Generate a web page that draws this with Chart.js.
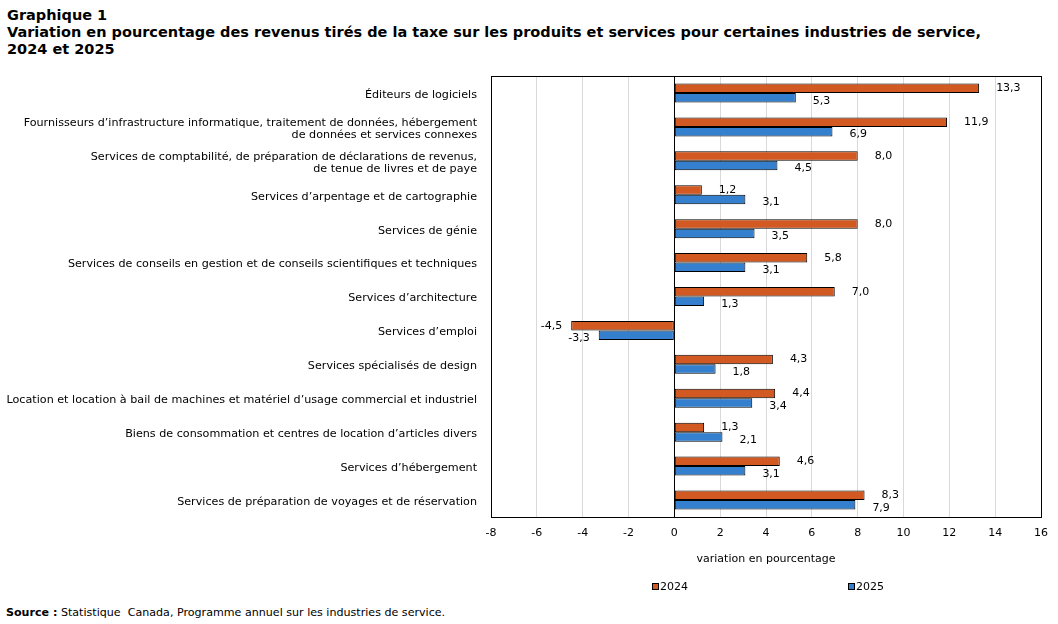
<!DOCTYPE html>
<html><head><meta charset="utf-8">
<script src="https://cdn.jsdelivr.net/npm/chart.js@4/dist/chart.umd.min.js"></script>
<style>
body{margin:0;background:#fff;width:1058px;height:624px;overflow:hidden;position:relative;font-family:"DejaVu Sans",Verdana,sans-serif;color:#000;}
#title{position:absolute;left:7px;top:7px;font-family:"DejaVu Sans",Verdana,sans-serif;font-weight:bold;font-size:14.5px;line-height:17px;}
#source{position:absolute;left:6px;top:606px;font-size:11.1px;}
canvas{position:absolute;left:0;top:0;}
</style></head>
<body>
<div id="title">Graphique 1<br>Variation en pourcentage des revenus tirés de la taxe sur les produits et services pour certaines industries de service,<br>2024 et 2025</div>
<canvas id="c" width="1058" height="600"></canvas>
<div id="source"><b>Source :</b> Statistique &nbsp;Canada, Programme annuel sur les industries de service.</div>
<script>
const categories = [
  "Éditeurs de logiciels",
  ["Fournisseurs d’infrastructure informatique, traitement de données, hébergement", "de données et services connexes"],
  ["Services de comptabilité, de préparation de déclarations de revenus,", "de tenue de livres et de paye"],
  "Services d’arpentage et de cartographie",
  "Services de génie",
  "Services de conseils en gestion et de conseils scientifiques et techniques",
  "Services d’architecture",
  "Services d’emploi",
  "Services spécialisés de design",
  "Location et location à bail de machines et matériel d’usage commercial et industriel",
  "Biens de consommation et centres de location d’articles divers",
  "Services d’hébergement",
  "Services de préparation de voyages et de réservation"
];
const values2024 = [13.3, 11.9, 8.0, 1.2, 8.0, 5.8, 7.0, -4.5, 4.3, 4.4, 1.3, 4.6, 8.3];
const values2025 = [5.3, 6.9, 4.5, 3.1, 3.5, 3.1, 1.3, -3.3, 1.8, 3.4, 2.1, 3.1, 7.9];
const seriesNames = ["2024", "2025"];
const seriesColors = ["#D25A22", "#3580CE"];
const xMin = -8, xMax = 16, xStep = 2;
const axisTitle = "variation en pourcentage";

const FONT = "DejaVu Sans";
const fmt = v => v.toFixed(1).replace('.', ',');

const frame = {
  id: 'frame',
  afterDraw(chart) {
    const {ctx, chartArea: a} = chart;
    ctx.save();
    ctx.strokeStyle = '#000';
    ctx.lineWidth = 1;
    ctx.strokeRect(Math.round(a.left) + 0.5, Math.round(a.top) + 0.5, Math.round(a.right - a.left), Math.round(a.bottom - a.top));
    ctx.restore();
  }
};

const valueLabels = {
  id: 'valueLabels',
  afterDatasetsDraw(chart) {
    const ctx = chart.ctx;
    ctx.save();
    ctx.font = "11px '" + FONT + "'";
    ctx.fillStyle = '#000';
    ctx.textBaseline = 'middle';
    chart.data.datasets.forEach((ds, di) => {
      const meta = chart.getDatasetMeta(di);
      meta.data.forEach((el, i) => {
        const v = ds.data[i];
        const dy = di === 0 ? 0 : 3;
        if (v >= 0) { ctx.textAlign = 'left'; ctx.fillText(fmt(v), el.x + 17, el.y + dy); }
        else { ctx.textAlign = 'right'; ctx.fillText(fmt(v), el.x - 9, el.y + dy); }
      });
    });
    ctx.restore();
  }
};

const customLegend = {
  id: 'customLegend',
  afterDraw(chart) {
    const ctx = chart.ctx;
    const a = chart.chartArea;
    const cx = (a.left + a.right) / 2;
    const offs = [-114, 82];
    const y = 587;
    ctx.save();
    ctx.font = "11px '" + FONT + "'";
    ctx.textBaseline = 'middle';
    ctx.textAlign = 'left';
    chart.data.datasets.forEach((ds, di) => {
      const x = Math.round(cx + offs[di]);
      ctx.fillStyle = ds.backgroundColor;
      ctx.fillRect(x, y - 4, 7, 7);
      ctx.strokeStyle = '#000';
      ctx.lineWidth = 1;
      ctx.strokeRect(x + 0.5, y - 3.5, 6, 6);
      ctx.fillStyle = '#000';
      ctx.fillText(ds.label, x + 8, y);
    });
    ctx.restore();
  }
};

new Chart(document.getElementById('c'), {
  type: 'bar',
  data: {
    labels: categories,
    datasets: [
      {label: seriesNames[0], data: values2024, backgroundColor: seriesColors[0], borderColor: '#000', borderWidth: 1, borderSkipped: false},
      {label: seriesNames[1], data: values2025, backgroundColor: seriesColors[1], borderColor: '#000', borderWidth: 1, borderSkipped: false}
    ]
  },
  options: {
    indexAxis: 'y',
    responsive: false,
    devicePixelRatio: 1,
    animation: false,
    layout: {padding: {top: 76, right: 15, bottom: 31, left: 0}},
    datasets: {bar: {categoryPercentage: 0.56, barPercentage: 1.0}},
    plugins: {legend: {display: false}, tooltip: {enabled: false}, title: {display: false}},
    scales: {
      x: {
        min: xMin, max: xMax,
        ticks: {stepSize: xStep, color: '#000', padding: 10, font: {family: FONT, size: 11}},
        grid: {drawTicks: false, color: c => (c.tick && c.tick.value === 0) ? '#000' : '#d9d9d9', lineWidth: 1},
        border: {display: false},
        title: {display: true, text: axisTitle, color: '#000', font: {family: FONT, size: 11}, padding: {top: 4, bottom: 3}},
        afterFit: s => { s.height = 52; }
      },
      y: {
        ticks: {color: '#000', padding: 6, labelOffset: 2, font: {family: FONT, size: 11.17, lineHeight: 1.1}, autoSkip: false},
        grid: {display: false},
        border: {display: false},
        afterFit: s => { s.width = 491; }
      }
    }
  },
  plugins: [frame, valueLabels, customLegend]
});
</script>
</body></html>
